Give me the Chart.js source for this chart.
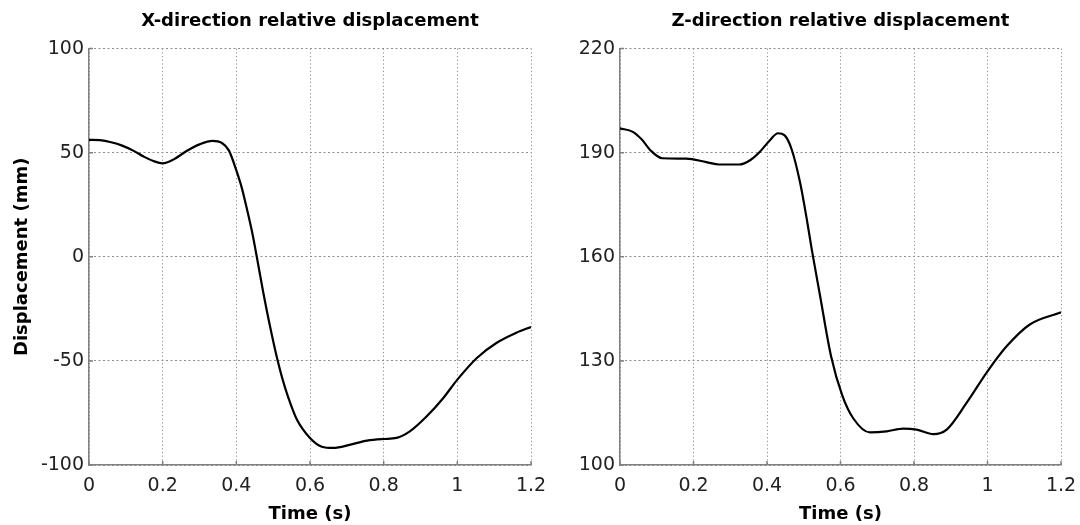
<!DOCTYPE html>
<html><head><meta charset="utf-8">
<script src="https://cdn.jsdelivr.net/npm/chart.js@4.4.1/dist/chart.umd.min.js"></script>
<style>
html,body{margin:0;padding:0;background:#fff;}
#wrap{position:relative;width:1080px;height:525px;background:#fff;overflow:hidden;}
canvas{position:absolute;top:0;}
#c1{left:0;} #c2{left:540px;}
</style></head><body>
<div id="wrap"><canvas id="c1" width="560" height="525"></canvas><canvas id="c2" width="540" height="525"></canvas></div>
<script>
// ---- data ----
const timeX = [0, 0.03, 0.06, 0.09, 0.12, 0.15, 0.175, 0.2, 0.23, 0.265, 0.3, 0.335, 0.36, 0.38, 0.4, 0.415, 0.43, 0.445, 0.455, 0.473, 0.491, 0.511, 0.525, 0.54, 0.564, 0.6, 0.632, 0.663, 0.71, 0.755, 0.8, 0.835, 0.87, 0.917, 0.962, 1.0, 1.053, 1.107, 1.16, 1.2];
const dispX = [56.2, 56, 55, 53.4, 51, 48, 46, 44.9, 46.8, 50.8, 54, 55.7, 54.8, 51, 41.5, 33, 22, 10, 0.5, -17, -33, -49, -58.5, -67, -78, -87, -91.2, -91.8, -90.2, -88.3, -87.5, -87, -84, -76.6, -67.8, -59, -48.6, -41.3, -36.5, -33.7];
const timeZ = [0, 0.035, 0.06, 0.082, 0.115, 0.18, 0.235, 0.27, 0.325, 0.355, 0.38, 0.408, 0.43, 0.448, 0.467, 0.49, 0.508, 0.522, 0.544, 0.574, 0.605, 0.635, 0.68, 0.726, 0.771, 0.807, 0.853, 0.889, 0.943, 1.0, 1.052, 1.115, 1.2];
const dispZ = [197, 196, 193.7, 190.8, 188.4, 188.3, 187.3, 186.6, 186.6, 187.9, 190.2, 193.6, 195.6, 195, 191, 181.4, 171, 162, 149, 131.5, 120, 113.4, 109.4, 109.7, 110.5, 110.2, 108.9, 110.2, 117.9, 127, 134.2, 140.5, 144];
const xTicks = [0, 0.2, 0.4, 0.6, 0.8, 1, 1.2];
const xTickLabels = ['0', '0.2', '0.4', '0.6', '0.8', '1', '1.2'];
const yTicksX = [-100, -50, 0, 50, 100];
const yTicksZ = [100, 130, 160, 190, 220];
const chartTitles = ['X-direction relative displacement', 'Z-direction relative displacement'];
const xAxisTitle = 'Time (s)';
const yAxisTitle = 'Displacement (mm)';

const FONT = 'DejaVu Sans';
const AXIS_GRAY = '#808080';

const tickMarks = {
  id: 'tickMarks',
  afterDatasetsDraw(chart) {
    const {ctx, chartArea: a, scales: {x, y}} = chart;
    ctx.save();
    ctx.strokeStyle = AXIS_GRAY;
    ctx.lineWidth = 1.5;
    ctx.beginPath();
    x.ticks.forEach(t => { const px = x.getPixelForValue(t.value); ctx.moveTo(px, a.bottom); ctx.lineTo(px, a.bottom - 4); });
    y.ticks.forEach(t => { const py = y.getPixelForValue(t.value); ctx.moveTo(a.left, py); ctx.lineTo(a.left + 4, py); });
    ctx.stroke();
    ctx.restore();
  }
};

function makeChart(id, t, d, yTicks, title, showYTitle, yWidth, padRight) {
  return new Chart(document.getElementById(id), {
    type: 'line',
    data: { datasets: [{
      data: t.map((x, i) => ({x: x, y: d[i]})),
      borderColor: '#000', borderWidth: 2.2, pointRadius: 0,
      cubicInterpolationMode: 'monotone', fill: false
    }]},
    options: {
      responsive: false, animation: false, devicePixelRatio: 1,
      layout: { padding: { left: 0, right: padRight, top: 0, bottom: 0 } },
      plugins: {
        legend: { display: false }, tooltip: { enabled: false },
        title: { display: true, text: title, fullSize: false, color: '#000',
          font: { family: FONT, size: 18, weight: 'bold' }, padding: { top: 11, bottom: 16 } }
      },
      scales: {
        x: {
          type: 'linear', min: 0, max: 1.2,
          afterBuildTicks: s => { s.ticks = xTicks.map(v => ({value: v})); },
          afterFit: s => { s.height = 60; s.paddingLeft = 0; s.paddingRight = 0; },
          ticks: { callback: (v, i) => xTickLabels[i], color: '#222', font: { family: FONT, size: 19 }, padding: 10, maxRotation: 0, autoSkip: false },
          grid: { color: '#8f8f8f', lineWidth: 1, drawTicks: false },
          border: { display: true, color: AXIS_GRAY, width: 1.5, dash: [1.2, 2.5] },
          title: { display: true, text: xAxisTitle, color: '#000', font: { family: FONT, size: 18, weight: 'bold' }, padding: { top: 0, bottom: 0 } }
        },
        y: {
          type: 'linear', min: yTicks[0], max: yTicks[yTicks.length - 1],
          afterBuildTicks: s => { s.ticks = yTicks.map(v => ({value: v})); },
          afterFit: s => { s.width = yWidth; s.paddingTop = 0; s.paddingBottom = 0; },
          ticks: { callback: v => String(v), color: '#222', font: { family: FONT, size: 19 }, padding: 5, autoSkip: false },
          grid: { color: '#8f8f8f', lineWidth: 1, drawTicks: false },
          border: { display: true, color: AXIS_GRAY, width: 1.5, dash: [2, 2.5] },
          title: { display: showYTitle, text: yAxisTitle, color: '#000', font: { family: FONT, size: 18, weight: 'bold' }, padding: { top: 12, bottom: 0 } }
        }
      }
    },
    plugins: [tickMarks]
  });
}

makeChart('c1', timeX, dispX, yTicksX, chartTitles[0], true, 89, 29);
makeChart('c2', timeZ, dispZ, yTicksZ, chartTitles[1], false, 80, 19);
</script>
</body></html>
